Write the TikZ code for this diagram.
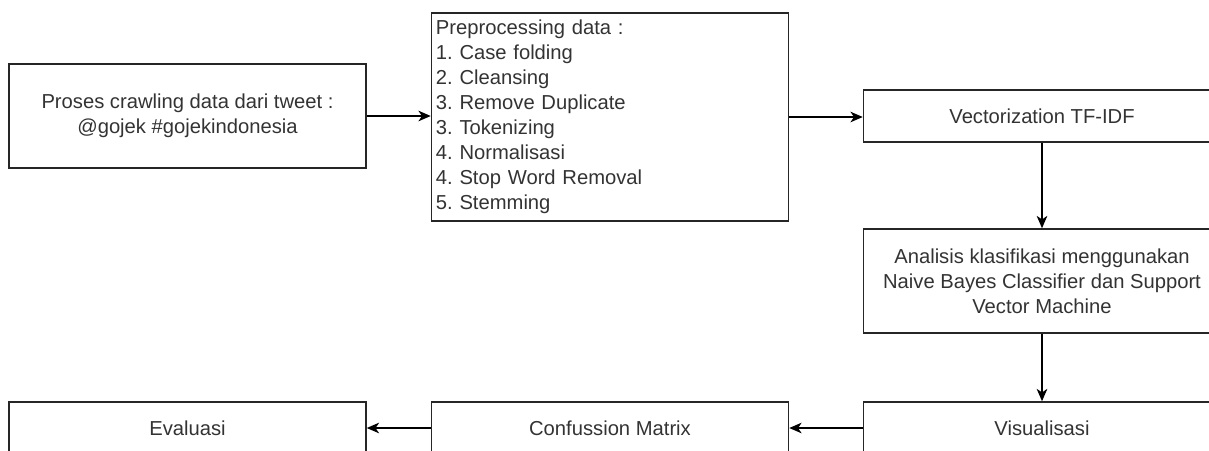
\documentclass[tikz,border=0pt]{standalone}
\usepackage{fontspec}
\setmainfont{Liberation Sans}
\usetikzlibrary{arrows.meta}
\frenchspacing
\begin{document}
\begin{tikzpicture}[x=0.02cm, y=-0.02cm,
    every node/.style={text=black!80, font=\fontsize{11.5}{14.2}\selectfont},
    stepbox/.style={draw=black!85, line width=0.9pt, fill=white, minimum width=7.14cm, align=center},
    flow/.style={draw=black, line width=0.9pt, -{Stealth[length=7pt, width=6pt, inset=2pt]}}]
        % Canvas
        \useasboundingbox (0,0) rectangle (1209,450);
        \clip (0,0) rectangle (1209,450);
        \fill[white] (0,0) rectangle (1209,450);

        % Top row
        \node[stepbox, minimum height=2.08cm] (crawl) at (187.5,116) {Proses crawling data dari tweet :\\@gojek \#gojekindonesia};
        \node[stepbox, minimum height=4.16cm, text width=7.14cm-5pt, inner xsep=2.5pt, align=left] (prep) at (610,117)
            {Preprocessing data :\\1. Case folding\\2. Cleansing\\3. Remove Duplicate\\3. Tokenizing\\4. Normalisasi\\4. Stop Word Removal\\5. Stemming};
        \node[stepbox, minimum height=1.04cm] (vect) at (1042,116) {Vectorization TF-IDF};

        % Right column
        \node[stepbox, minimum height=2.08cm] (nbsvm) at (1042,281)
            {Analisis klasifikasi menggunakan\\Naive Bayes Classifier dan Support\\Vector Machine};

        % Bottom row
        \node[stepbox, minimum height=1.04cm] (visual) at (1042,428) {Visualisasi};
        \node[stepbox, minimum height=1.04cm] (cm) at (610,428) {Confussion Matrix};
        \node[stepbox, minimum height=1.04cm] (eval) at (187.5,428) {Evaluasi};

        % Connectors
        \draw[flow] (crawl.east) -- (crawl.east -| prep.west);
        \draw[flow] (prep.east) -- (prep.east -| vect.west);
        \draw[flow] (vect.south) -- (nbsvm.north);
        \draw[flow] (nbsvm.south) -- (visual.north);
        \draw[flow] (visual.west) -- (cm.east);
        \draw[flow] (cm.west) -- (eval.east);
    \end{tikzpicture}
\end{document}
